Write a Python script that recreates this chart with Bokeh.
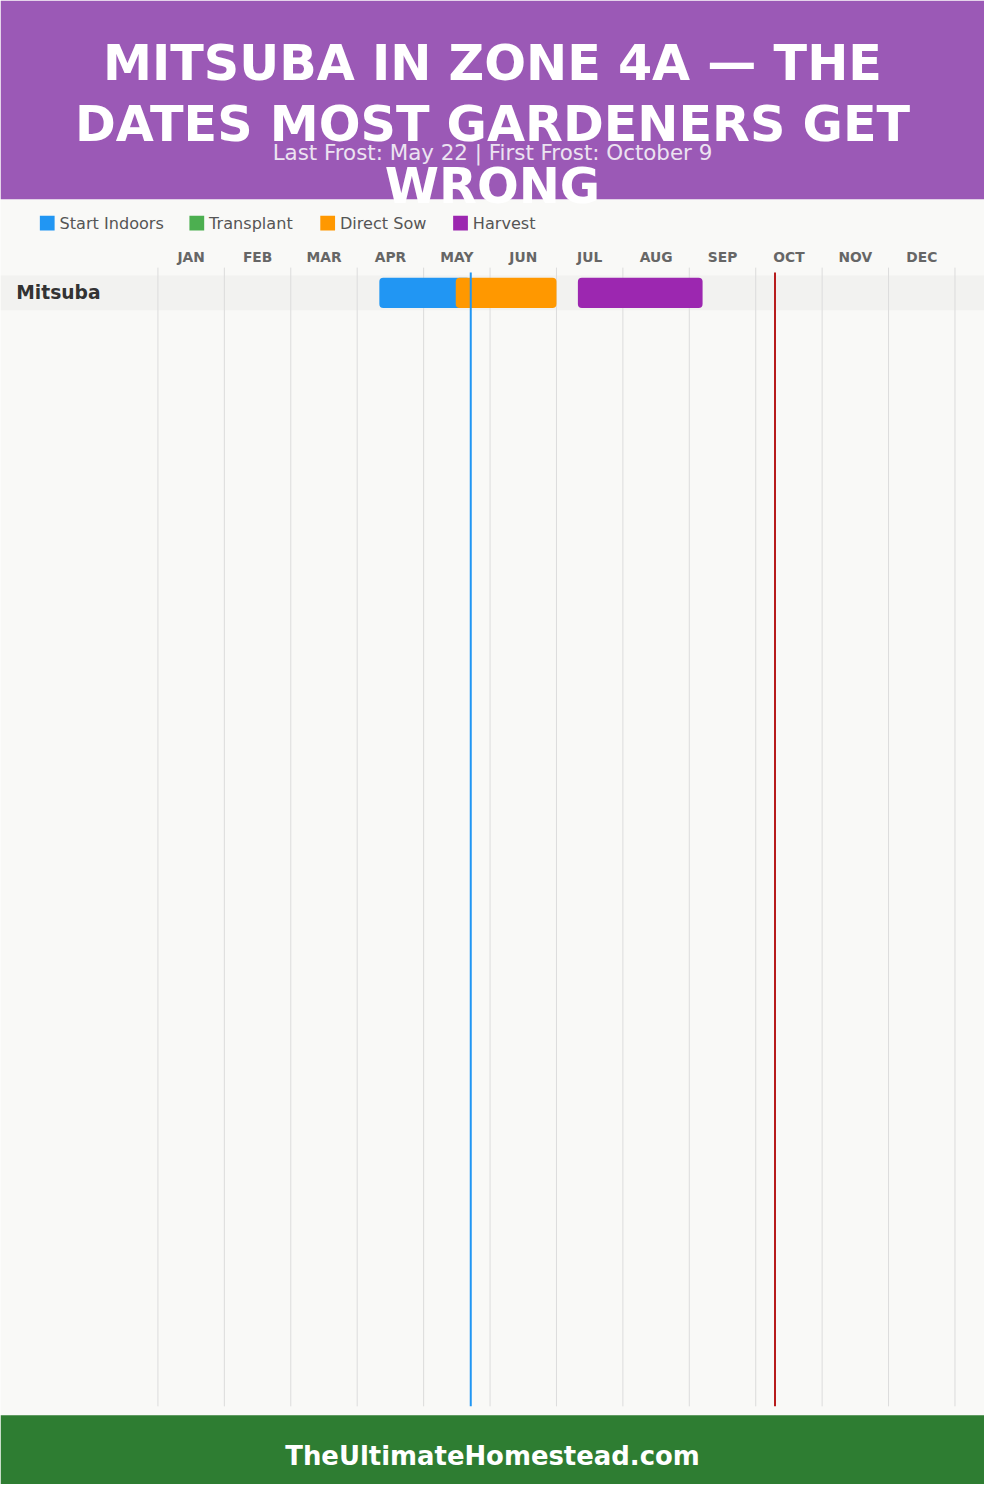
from bokeh.plotting import figure
from bokeh.models import Range1d
from bokeh.core.properties import value
from bokeh.embed import file_html
from bokeh.resources import INLINE

# ---------------- data ----------------
title_lines = ["MITSUBA IN ZONE 4A — THE", "DATES MOST GARDENERS GET", "WRONG"]
subtitle = "Last Frost: May 22 | First Frost: October 9"
footer_text = "TheUltimateHomestead.com"
months = ["JAN", "FEB", "MAR", "APR", "MAY", "JUN", "JUL", "AUG", "SEP", "OCT", "NOV", "DEC"]
days_in_month = [31, 28, 31, 30, 31, 30, 31, 31, 30, 31, 30, 31]
crops = ["Mitsuba"]
legend_labels = ["Start Indoors", "Transplant", "Direct Sow", "Harvest"]
legend_colors = ["#2196f3", "#4caf50", "#ff9800", "#9c27b0"]
# phases of the crop (month, day)
phase_crop = ["Mitsuba", "Mitsuba", "Mitsuba"]
phase_names = ["Start Indoors", "Direct Sow", "Harvest"]
phase_start = [(4, 10), (5, 15), (7, 10)]
phase_end = [(5, 22), (6, 30), (9, 6)]
last_frost = (5, 22)
first_frost = (10, 9)

# ---------------- layout ----------------
W, H = 984, 1484              # canvas; design is laid out on a 1000x1500 grid
DW, DH = 1000, 1500
X0, MW = 160.0, 67.5          # design px of January start, px per month
FS = W / DW                   # font scale


def px(X):
    """design x pixel -> month units"""
    return (X - X0) / MW


def mpos(md):
    m, d = md
    return (m - 1) + d / days_in_month[m - 1]


def fs(size):
    return f"{size * FS:.1f}px"


FONT = value("DejaVu Sans")
BG = "#f9f9f7"

p = figure(width=W, height=H, output_backend="svg", toolbar_location=None,
           x_range=Range1d(px(0), px(DW)), y_range=Range1d(DH, 0),
           min_border=0, background_fill_color=BG, border_fill_color=BG,
           outline_line_color=None)
p.axis.visible = False
p.grid.visible = False

xl, xr = px(0), px(DW)

# header
p.quad(left=xl, right=xr, top=0, bottom=201, fill_color="#9b59b6", line_color=None)

# row band
ROW_Y0, ROW_H = 295.5, 35
row_y = [ROW_Y0 + i * ROW_H for i in range(len(crops))]
p.quad(left=xl, right=xr, top=[y - 17.5 for y in row_y], bottom=[y + 17.5 for y in row_y],
       fill_color="#f2f2f0", line_color=None)

# month grid lines
gx = list(range(13))
p.segment(x0=gx, y0=270, x1=gx, y1=1421, line_color="#dcdcdc", line_width=1)

# month labels
p.text(x=[i + 0.5 for i in range(12)], y=259, text=months, text_font=FONT,
       text_font_style="bold", text_font_size=fs(14), text_color="#666666",
       text_align="center", text_baseline="middle")

# crop labels
p.text(x=px(16), y=row_y, text=crops, text_font=FONT, text_font_style="bold",
       text_font_size=fs(19), text_color="#333333", text_align="left",
       text_baseline="middle")

# bars
color_of = dict(zip(legend_labels, legend_colors))
for crop, name, s, e in zip(phase_crop, phase_names, phase_start, phase_end):
    y = row_y[crops.index(crop)]
    p.hbar(y=y, left=mpos(s), right=mpos(e), height=30.5, fill_color=color_of[name],
           line_color=None, border_radius=4)

# frost lines
p.segment(x0=mpos(last_frost), y0=275, x1=mpos(last_frost), y1=1421,
          line_color="#2196f3", line_width=2)
p.segment(x0=mpos(first_frost), y0=275, x1=mpos(first_frost), y1=1421,
          line_color="#b71c1c", line_width=2)

# legend
leg_x = [40, 192, 325, 460]
p.rect(x=[px(x + 7.5) for x in leg_x], y=225, width=15 / MW, height=15,
       fill_color=legend_colors, line_color=None)
p.text(x=[px(x + 20) for x in leg_x], y=225, text=legend_labels, text_font=FONT,
       text_font_size=fs(16.4), text_color="#555555", text_align="left",
       text_baseline="middle")

# footer
p.quad(left=xl, right=xr, top=1430, bottom=1500, fill_color="#2e7d32", line_color=None)
p.text(x=px(500), y=1471, text=[footer_text], text_font=FONT, text_font_style="bold",
       text_font_size=fs(26.3), text_color="white", text_align="center",
       text_baseline="middle")

# title & subtitle
p.text(x=px(500), y=[63, 125, 187], text=title_lines, text_font=FONT,
       text_font_style="bold", text_font_size=fs(50), text_color="white",
       text_align="center", text_baseline="middle")
p.text(x=px(500), y=154, text=[subtitle], text_font=FONT, text_font_size=fs(21.7),
       text_color="#ece3f1", text_align="center", text_baseline="middle")

open("out.html", "w").write(file_html(p, INLINE))
